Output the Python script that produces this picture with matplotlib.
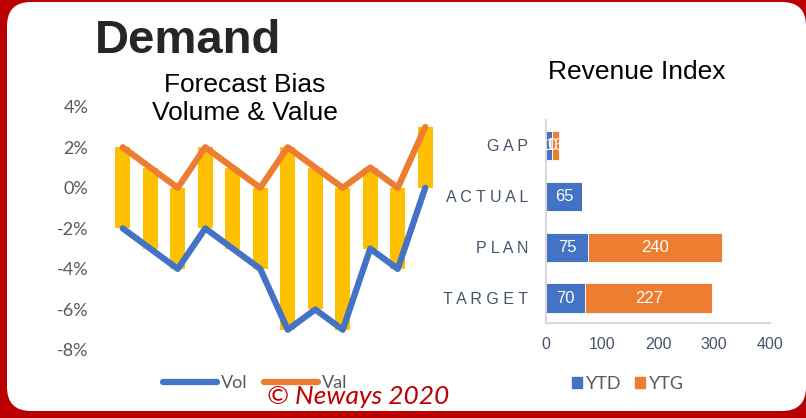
import numpy as np
import matplotlib.pyplot as plt
from matplotlib.patches import FancyBboxPatch
from matplotlib.lines import Line2D
from matplotlib.patches import Patch

# datos del grafico de sesgo (en %)
periodos = np.arange(1, 13)
vol = [-2, -3, -4, -2, -3, -4, -7, -6, -7, -3, -4, 0]
val = [2, 1, 0, 2, 1, 0, 2, 1, 0, 1, 0, 3]
y_ticks = [-8, -6, -4, -2, 0, 2, 4]

# datos del indice de ingresos
categorias = ['TARGET', 'PLAN', 'ACTUAL', 'GAP']
ytd = [70, 75, 65, 10]
ytg = [227, 240, 0, 13]
x_ticks = [0, 100, 200, 300, 400]

azul = '#4472C4'
naranja = '#ED7D31'
amarillo = '#FFC000'

fig = plt.figure(figsize=(8.06, 4.18), dpi=100, facecolor='#BA0000')

# fondo: marco rojo con tarjeta blanca redondeada
bg = fig.add_axes([0, 0, 1, 1], zorder=-1)
bg.set_xlim(0, 806)
bg.set_ylim(418, 0)
bg.axis('off')
bg.add_patch(FancyBboxPatch((7, 2), 799, 409, boxstyle='round,pad=0,rounding_size=24',
                            facecolor='white', edgecolor='none'))

# titulos
fig.text(95 / 806, 1 - 41 / 418, 'Demand', fontsize=34, fontweight='bold',
         family='Liberation Sans', color='#262626', va='center', ha='left')
fig.text(245 / 806, 1 - 99 / 418, 'Forecast Bias\nVolume & Value', fontsize=19,
         family='Liberation Sans', color='black', va='center', ha='center', linespacing=1.22)
fig.text(637 / 806, 1 - 72 / 418, 'Revenue Index', fontsize=19,
         family='Liberation Sans', color='black', va='center', ha='center')

# grafico izquierdo
ax = fig.add_axes([109 / 806, 1 - 350 / 418, (439 - 109) / 806, (350 - 106.7) / 418])
ax.set_facecolor('none')
alto = np.array(val) - np.array(vol)
ax.bar(periodos, alto, bottom=vol, width=0.55, color=amarillo, zorder=1)
ax.plot(periodos, vol, color=azul, lw=4.5, zorder=3, solid_capstyle='round')
ax.plot(periodos, val, color=naranja, lw=4.5, zorder=3, solid_capstyle='round')
ax.set_xlim(0.5, 12.5)
ax.set_ylim(-8, 4)
ax.set_yticks(y_ticks)
ax.set_yticklabels([f'{v}%' for v in y_ticks], family='Lato', fontsize=13, color='#595959')
ax.set_xticks([])
ax.tick_params(axis='y', length=0, pad=15)
for s in ax.spines.values():
    s.set_visible(False)

leg1 = fig.legend(handles=[Line2D([], [], color=azul, lw=4.5, solid_capstyle='round'),
                           Line2D([], [], color=naranja, lw=4.5, solid_capstyle='round')],
                  labels=['Vol', 'Val'], loc='center', bbox_to_anchor=(255 / 806, 1 - 383 / 418),
                  ncol=2, frameon=False, handlelength=3.0, handletextpad=0.2, columnspacing=0.9,
                  prop={'family': 'Lato', 'size': 13})
for t in leg1.get_texts():
    t.set_color('#595959')

# grafico derecho
ax2 = fig.add_axes([546 / 806, 1 - 322.7 / 418, (770 - 546) / 806, (322.7 - 120) / 418])
ax2.set_facecolor('none')
pos = np.arange(len(categorias))
b1 = ax2.barh(pos, ytd, height=0.58, color=azul, edgecolor='white', linewidth=0.6)
b2 = ax2.barh(pos, ytg, left=ytd, height=0.58, color=naranja, edgecolor='white', linewidth=0.6)
for barras in (b1, b2):
    for r in barras:
        w = r.get_width()
        if w > 0:
            ax2.text(r.get_x() + w / 2, r.get_y() + r.get_height() / 2, f'{w:.0f}',
                     ha='center', va='center', color='white', fontsize=12, family='Liberation Sans')
ax2.set_xlim(0, 400)
ax2.set_ylim(-0.48, 3.5)
ax2.set_yticks(pos)
ax2.set_yticklabels([' '.join(c) for c in categorias], family='Liberation Sans', fontsize=11.5,
                    color='#44546A')
ax2.set_xticks(x_ticks)
ax2.set_xticklabels([str(v) for v in x_ticks], family='Liberation Sans', fontsize=11.5,
                    color='#44546A')
ax2.tick_params(axis='y', length=0, pad=13)
ax2.tick_params(axis='x', length=0, pad=10)
for s in ['top', 'right']:
    ax2.spines[s].set_visible(False)
for s in ['left', 'bottom']:
    ax2.spines[s].set_color('#D9D9D9')
    ax2.spines[s].set_linewidth(1.5)

leg2 = fig.legend(handles=[Patch(color=azul), Patch(color=naranja)], labels=['YTD', 'YTG'],
                  loc='center', bbox_to_anchor=(628 / 806, 1 - 384 / 418), ncol=2, frameon=False,
                  handlelength=0.55, handleheight=0.55, handletextpad=0.2, columnspacing=0.8,
                  prop={'family': 'Lato', 'size': 13})
for t in leg2.get_texts():
    t.set_color('#595959')

fig.text(358 / 806, 1 - 396 / 418, '© Neways 2020', fontsize=19, style='italic', family='Lato',
         color='#C00000', ha='center', va='center')

fig.savefig('out.png', dpi=100, facecolor=fig.get_facecolor())
